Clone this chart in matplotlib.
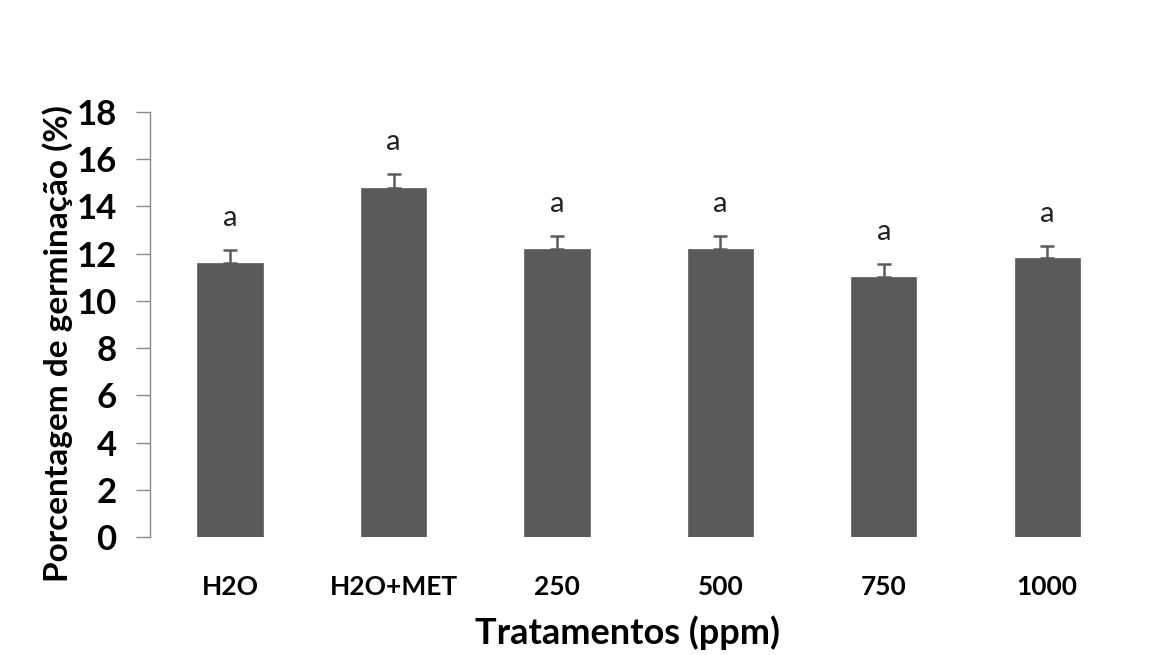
import matplotlib
matplotlib.use("Agg")
import matplotlib.pyplot as plt

categories = ["H2O", "H2O+MET", "250", "500", "750", "1000"]
means = [11.6, 14.8, 12.2, 12.2, 11.0, 11.8]
errors = [0.57, 0.57, 0.57, 0.57, 0.58, 0.53]
letters = ["a", "a", "a", "a", "a", "a"]
yticks = [0, 2, 4, 6, 8, 10, 12, 14, 16, 18]

plt.rcParams['font.family'] = ['Lato', 'DejaVu Sans']

fig = plt.figure(figsize=(11.61, 6.55), dpi=100)
ax = fig.add_axes([0.1292, 0.180, 0.9724 - 0.1292, 0.829 - 0.180])

x = list(range(len(categories)))
ax.bar(x, means, width=0.40, color="#5a5a5a", edgecolor="#6a6a6a", linewidth=0.6, zorder=2)
ax.errorbar(x, means, yerr=[[0] * len(errors), errors], fmt="none",
            ecolor="#5a5a5a", elinewidth=1.8, capsize=4.8, capthick=1.8, zorder=3)
for xi, m, e, l in zip(x, means, errors, letters):
    ax.text(xi, m + e + 0.8, l, ha="center", va="bottom", fontsize=21, color="#222222")

ax.set_xlim(-0.49, 5.5)
ax.set_ylim(0, 18)
ax.set_yticks(yticks)
ax.set_yticklabels([str(t) for t in yticks], fontsize=25, fontweight="bold")
ax.set_xticks(x)
ax.set_xticklabels(categories, fontsize=19, fontweight="bold")

for s in ["top", "right", "bottom"]:
    ax.spines[s].set_visible(False)
ax.spines["left"].set_color("#8a8a8a")
ax.spines["left"].set_linewidth(1.0)
ax.tick_params(axis="y", length=10, width=1.0, color="#8a8a8a", pad=14)
ax.tick_params(axis="x", length=0, pad=27)

ax.set_ylabel("Porcentagem de germinação (%)", fontsize=24, fontweight="bold", va="center")
ax.yaxis.set_label_coords(-0.094, 0.456)
ax.set_xlabel("Tratamentos (ppm)", fontsize=26, fontweight="bold", va="center")
ax.xaxis.set_label_coords(0.488, -0.226)

fig.savefig("out.png", dpi=100, facecolor="white")
